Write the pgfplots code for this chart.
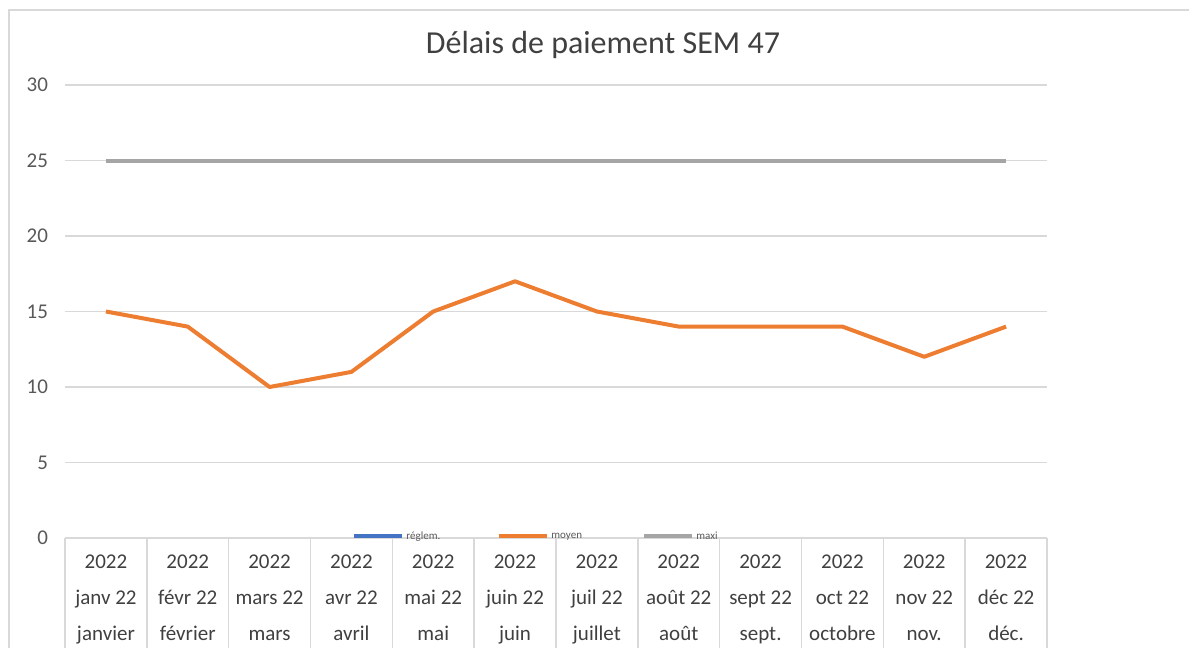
\documentclass[border=0pt]{standalone}
\usepackage{pgfplots}
\pgfplotsset{compat=1.18}
\usepackage{fontspec}
\setmainfont{Carlito}
\definecolor{cblue}{HTML}{4472C4}
\definecolor{corange}{HTML}{ED7D31}
\definecolor{cgray}{HTML}{A5A5A5}
\definecolor{gridgray}{HTML}{D9D9D9}
\definecolor{txt}{HTML}{595959}
\definecolor{txtd}{HTML}{404040}
\begin{document}
\begin{tikzpicture}
\path[use as bounding box] (0,0) rectangle (594.5pt,324pt);
\draw[gridgray, line width=0.8pt] (4.5pt,0) -- (4.5pt,319pt) -- (594.5pt,319pt);
\node[txtd, font=\fontsize{16}{19}\selectfont] at (301.5pt,301.5pt) {Délais de paiement SEM 47};
\begin{axis}[
  at={(32.5pt,55pt)}, anchor=south west,
  scale only axis, width=491pt, height=226.5pt,
  xmin=0, xmax=12, ymin=0, ymax=30,
  axis line style={draw=none},
  ytick={0,5,...,30},
  xtick pos=bottom,
  ymajorgrids, grid style={gridgray, line width=0.75pt},
  major tick length=0pt,
  tick style={gridgray, line width=0.75pt},
  /pgf/number format/assume math mode=true,
  yticklabel style={txt, font=\fontsize{10.5}{12}\selectfont, xshift=-5pt},
  xtick={0.5,1.5,...,11.5},
  xticklabels={{2022\\janv 22\\janvier},{2022\\févr 22\\février},{2022\\mars 22\\mars},{2022\\avr 22\\avril},{2022\\mai 22\\mai},{2022\\juin 22\\juin},{2022\\juil 22\\juillet},{2022\\août 22\\août},{2022\\sept 22\\sept.},{2022\\oct 22\\octobre},{2022\\nov 22\\nov.},{2022\\déc 22\\déc.}},
  xticklabel style={txtd, font=\fontsize{10.5}{18}\selectfont, align=center, anchor=north, yshift=-5pt},
  extra x ticks={0,1,...,12},
  extra x tick labels={},
  extra x tick style={major tick length=60pt, tick align=outside, grid=none, xtick pos=bottom},
  legend columns=3,
  legend style={at={(0.2923,0.005)}, anchor=west, draw=none, fill=none, inner sep=0pt, column sep=0pt,
    font=\fontsize{5.5}{6}\selectfont, text=txt, nodes={inner sep=1pt}},
  legend image code/.code={\draw[#1] (0pt,0pt) -- (24pt,0pt);},
  clip=false,
]
\addlegendimage{cblue, line width=2pt}
\addlegendentry{\raisebox{-1.2pt}{\makebox[44.5pt][l]{réglem.}}}
\addplot[corange, line width=2pt, line join=round] coordinates {
(0.5,15) (1.5,14) (2.5,10) (3.5,11) (4.5,15) (5.5,17) (6.5,15) (7.5,14) (8.5,14) (9.5,14) (10.5,12) (11.5,14)};
\addlegendentry{\raisebox{-1.2pt}{\makebox[44.5pt][l]{moyen}}}
\addplot[cgray, line width=2pt] coordinates {
(0.5,25) (1.5,25) (2.5,25) (3.5,25) (4.5,25) (5.5,25) (6.5,25) (7.5,25) (8.5,25) (9.5,25) (10.5,25) (11.5,25)};
\addlegendentry{\raisebox{-1.2pt}{\makebox[44.5pt][l]{maxi}}}
\end{axis}
\end{tikzpicture}
\end{document}
